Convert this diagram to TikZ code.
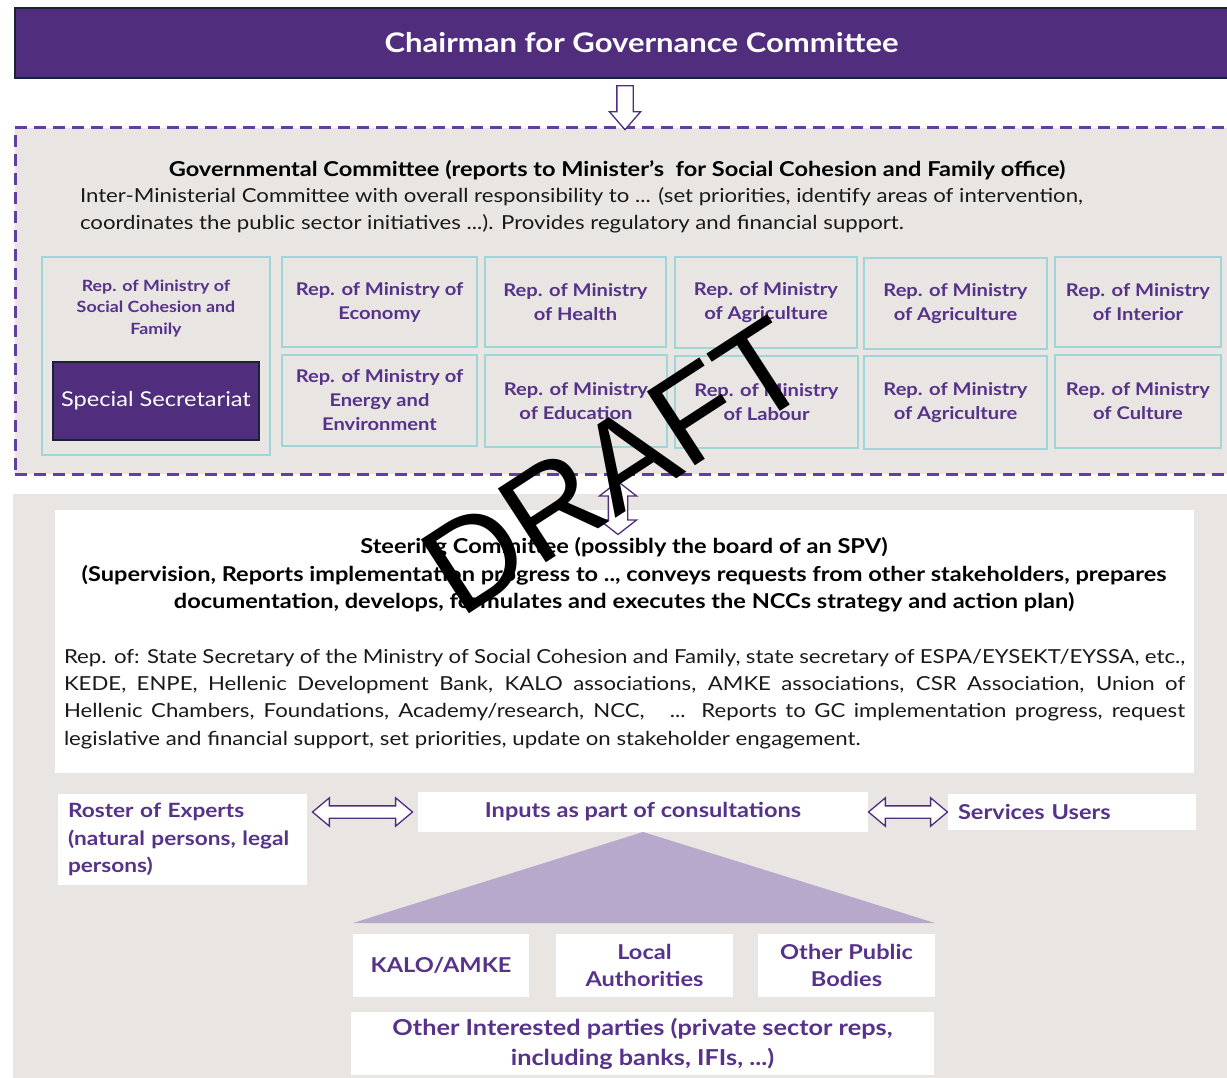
\documentclass[tikz,border=0pt]{standalone}
\usepackage{fontspec}
\setmainfont[FakeStretch=1.15]{Lato}
\newfontfamily\draftfont{Liberation Sans}
\usepackage{tikz}
\usetikzlibrary{positioning, calc, shapes.arrows}
\definecolor{govpurple}{RGB}{80,46,125}
\definecolor{textpurple}{RGB}{86,50,138}
\definecolor{navyline}{RGB}{25,35,55}
\definecolor{panelgray}{RGB}{232,229,226}
\definecolor{repteal}{RGB}{158,213,217}
\definecolor{lavender}{RGB}{183,169,204}
\definecolor{dashpurple}{RGB}{98,62,160}
\definecolor{inkblack}{RGB}{25,25,25}

\begin{document}
\begin{tikzpicture}[x=1pt,y=-1pt,every node/.style={inner sep=0pt,outer sep=0pt},
    chair/.style={anchor=north west,fill=govpurple,draw=navyline,line width=1.2pt,text=white,
        font=\bfseries\fontsize{27}{30}\selectfont},
    govbox/.style={anchor=north west,fill=panelgray,draw=dashpurple,line width=3pt,dash pattern=on 12pt off 7pt},
    panel/.style={anchor=north west,fill=panelgray},
    repbox/.style={anchor=north west,fill=panelgray,draw=repteal,line width=2.5pt,text=textpurple,align=center,
        font=\bfseries\fontsize{17.5}{24}\selectfont},
    reptext/.style={text=textpurple,align=center,font=\bfseries\fontsize{15.5}{21.5}\selectfont},
    secbox/.style={fill=govpurple,draw=navyline,line width=1.2pt,text=white,font=\fontsize{20.5}{24}\selectfont},
    whitebox/.style={anchor=north west,fill=white,text=textpurple,font=\bfseries\fontsize{20.5}{27.5}\selectfont},
    headtext/.style={text=black,align=center,font=\bfseries\fontsize{20.5}{27.5}\selectfont},
    bodytext/.style={text=inkblack,font=\fontsize{19.3}{27.3}\selectfont},
    downarrow/.style={single arrow,draw=govpurple,fill=white,line width=1.3pt,inner sep=7.5pt,
        single arrow head extend=7.5pt,single arrow tip angle=82,shape border rotate=270},
    vdouble/.style={double arrow,draw=govpurple,fill=white,line width=1.3pt,inner sep=9pt,
        double arrow head extend=9pt,double arrow tip angle=104,shape border rotate=90,minimum height=53pt},
    hdouble/.style={double arrow,draw=govpurple,fill=white,line width=1.3pt,inner sep=5.5pt,
        double arrow head extend=8pt,double arrow tip angle=80}]
    \useasboundingbox (0,0) rectangle (1227,1078);

    \node[chair,minimum width=1253pt,minimum height=70pt] (chair) at (15,8) {Chairman for Governance Committee};

    \node[govbox,minimum width=1220pt,minimum height=346pt] (gov) at (15,128) {};
    \node[headtext] (govhead) at (617,170)
        {Governmental Committee (reports to Minister’s\ \ for Social Cohesion and Family office)};
    \node[bodytext,anchor=west,align=left] (govtext) at (80,210.5)
        {Inter-Ministerial Committee with overall responsibility to ... (set priorities, identify areas of intervention,\\
         coordinates the public sector initiatives ...). Provides regulatory and financial support.};

    \node[repbox,minimum width=228pt,minimum height=198pt] (soc) at (42,257) {};
    \node[reptext,below=23pt of soc.north] (soctext) {Rep. of Ministry of\\Social Cohesion and\\Family};
    \node[secbox,minimum width=206pt,minimum height=78pt,above=15pt of soc.south] (sec) {Special Secretariat};
    \node[repbox,minimum width=195pt,minimum height=90pt] (econ) at (282,257) {Rep. of Ministry of\\Economy};
    \node[repbox,minimum width=195pt,minimum height=91pt] (energy) at (282,355) {Rep. of Ministry of\\Energy and\\Environment};
    \node[repbox,minimum width=181pt,minimum height=90pt] (health) at (485,257) {Rep. of Ministry\\of Health};
    \node[repbox,minimum width=182pt,minimum height=92pt] (educ) at (485,355) {Rep. of Ministry\\of Education};
    \node[repbox,minimum width=182pt,minimum height=91pt] (agri) at (675,257) {Rep. of Ministry\\of Agriculture};
    \node[repbox,minimum width=183pt,minimum height=92pt] (labour) at (675,356) {Rep. of Ministry\\of Labour};
    \node[repbox,minimum width=183pt,minimum height=91pt] (agrib) at (864,258) {Rep. of Ministry\\of Agriculture};
    \node[repbox,minimum width=183pt,minimum height=93pt] (agric) at (864,356) {Rep. of Ministry\\of Agriculture};
    \node[repbox,minimum width=166pt,minimum height=90pt] (interior) at (1055,257) {Rep. of Ministry\\of Interior};
    \node[repbox,minimum width=166pt,minimum height=93pt] (culture) at (1055,355) {Rep. of Ministry\\of Culture};

    \node[panel,minimum width=1230pt,minimum height=600pt] (steerpanel) at (13,494) {};
    \node[panel,fill=white,minimum width=1139pt,minimum height=263pt] (steer) at (55,510) {};
    \node[headtext] (steerhead) at (624,575)
        {Steering Committee (possibly the board of an SPV)\\
         (Supervision, Reports implementation progress to .., conveys requests from other stakeholders, prepares\\
         documentation, develops, formulates and executes the NCCs strategy and action plan)};
    \node[bodytext,anchor=west,text width=1121pt,align=justify] (steertext) at (64,699)
        {Rep. of: State Secretary of the Ministry of Social Cohesion and Family, state secretary of ESPA/EYSEKT/EYSSA, etc.,\linebreak
         KEDE, ENPE, Hellenic Development Bank, KALO associations, AMKE associations, CSR Association, Union of\linebreak
         Hellenic Chambers, Foundations, Academy/research, NCC,\ \ \ ... Reports to GC implementation progress, request\linebreak
         legislative and financial support, set priorities, update on stakeholder engagement.};

    \node[whitebox,text width=229pt,inner xsep=10pt,minimum height=91pt,align=left,
        font=\bfseries\fontsize{19.7}{27.5}\selectfont] (roster) at (58,794)
        {\mbox{Roster of Experts}\\\mbox{(natural persons, legal}\\\mbox{persons)}};
    \node[whitebox,minimum width=450pt,minimum height=40pt] (inputs) at (418,792) {Inputs as part of consultations};
    \node[whitebox,text width=228pt,inner xsep=10pt,minimum height=36pt,align=left] (users) at (948,794) {Services Users};
    \node[whitebox,minimum width=176pt,minimum height=63pt,align=center] (kalo) at (353,934) {KALO/AMKE};
    \node[whitebox,minimum width=177pt,minimum height=63pt,align=center] (local) at (556,934) {Local\\Authorities};
    \node[whitebox,minimum width=177pt,minimum height=63pt,align=center] (public) at (758,934) {Other Public\\Bodies};
    \node[whitebox,minimum width=583pt,minimum height=63pt,align=center,font=\bfseries\fontsize{22}{30}\selectfont] (others)
        at (351,1012) {Other Interested parties (private sector reps,\\including banks, IFIs, ...)};
    \fill[lavender] (inputs.south) -- ([yshift=11pt]kalo.north west) -- ([yshift=11pt]public.north east) -- cycle;

    \node[downarrow,minimum height=44pt] (arrgov) at ($(chair.south -| gov.north)!.5!(gov.north)$) {};
    \node[vdouble] (arrsteer) at ($(gov.south)+(-7,34)$) {};
    \node[hdouble,minimum height=100pt] (arrroster) at ($(roster.east |- inputs.west)!.5!(inputs.west)$) {};
    \node[hdouble,minimum height=79pt] (arrusers) at ($(inputs.east)!.5!(users.west)$) {};

    \node[rotate=33,font=\draftfont\fontsize{128}{128}\selectfont] (draft) at (615,466) {DRAFT};
\end{tikzpicture}
\end{document}
